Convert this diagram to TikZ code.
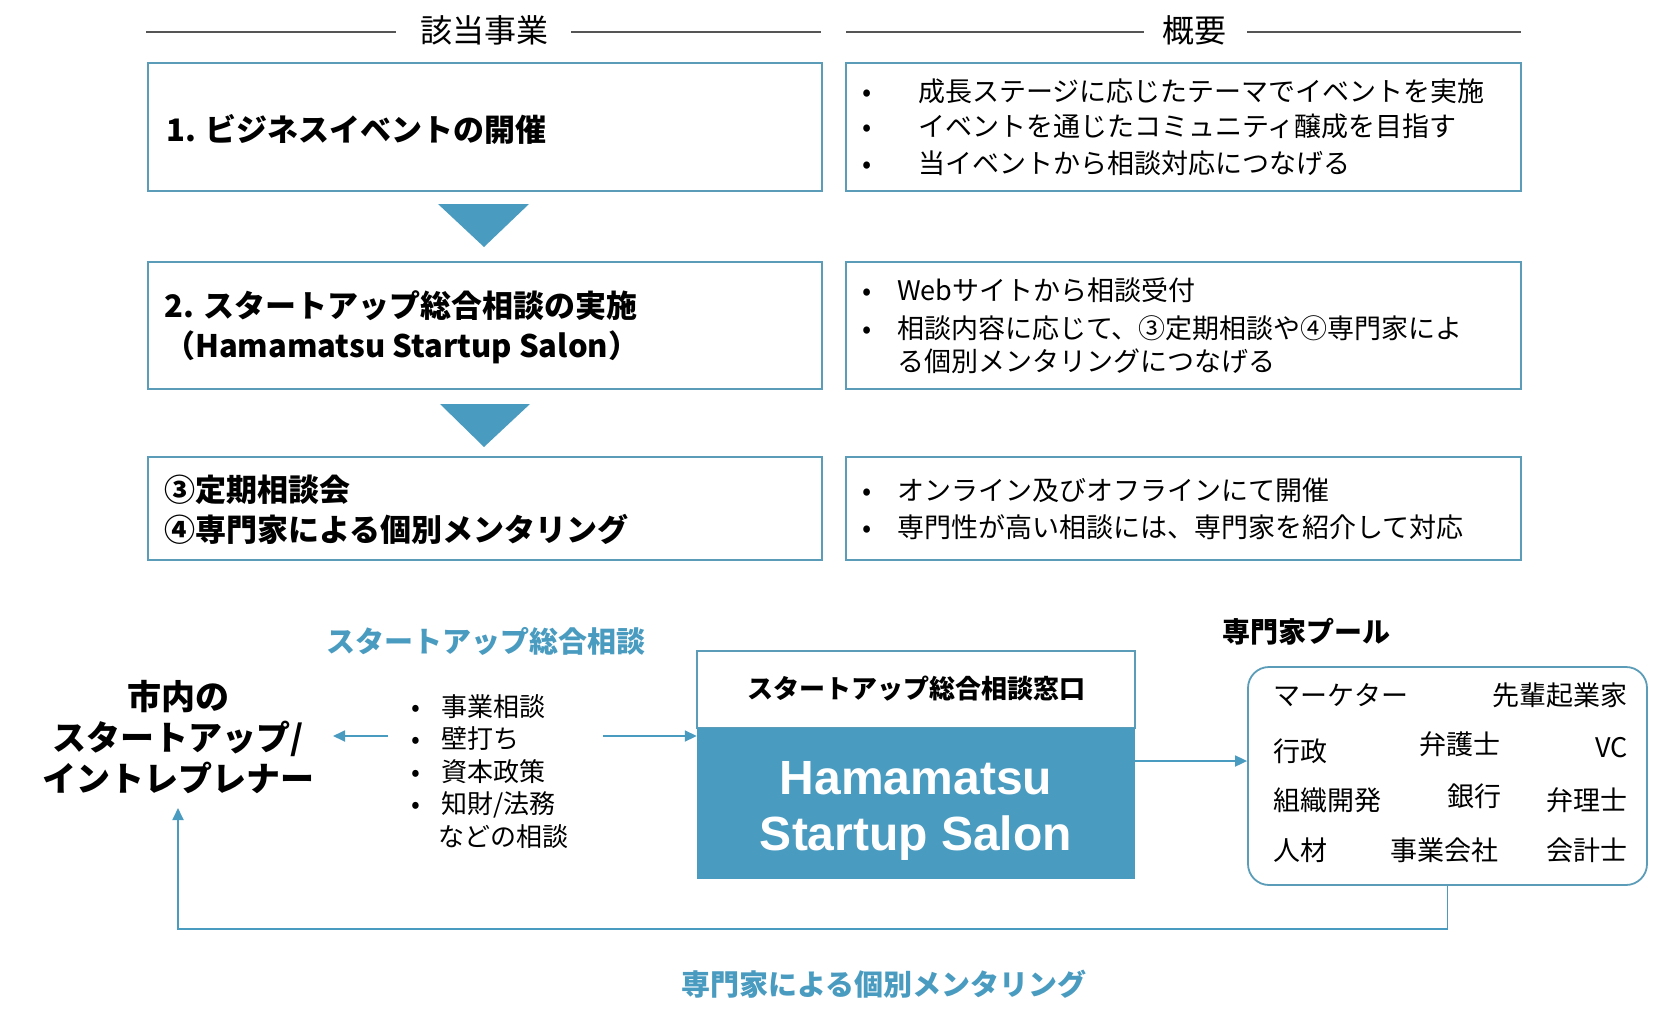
\documentclass[tikz,border=0pt]{standalone}
\usepackage{fontspec}
\setmainfont{Noto Sans CJK JP}
\newfontfamily\latinfont{Liberation Sans}
\usetikzlibrary{arrows.meta}
\definecolor{acc}{HTML}{4A9BC0}
\definecolor{bordc}{HTML}{5B9DB8}
\definecolor{hline}{HTML}{555555}
\newcommand\bitem[2]{\makebox[#1][l]{•}#2}
\newcommand\fs[2]{\fontsize{#1}{#2}\selectfont}
\begin{document}
\begin{tikzpicture}[x=1pt,y=-1pt,
  bx/.style={draw=bordc, line width=2, inner sep=0, minimum width=674},
  hd/.style={font=\fs{32}{36}, inner sep=0},
  hl/.style={draw=hline, line width=1.5},
  ttl/.style={font=\bfseries\fs{31}{40}, anchor=west, align=left, inner sep=0},
  bl/.style={font=\fs{27}{33}, anchor=west, align=left, inner sep=0},
  conn/.style={draw=acc, line width=1.8, -{Triangle[length=12,width=11]}},
  tri/.style={fill=acc},
  pl/.style={font=\fs{27}{32}, inner sep=0},
]
\useasboundingbox (0,0) rectangle (1668,1022);

% headers
\node[hd] (h1) at (484,30) {該当事業};
\node[hd] (h2) at (1194,30) {概要};
\draw[hl] (146,32) -- (396,32);
\draw[hl] (571,32) -- (821,32);
\draw[hl] (846,32) -- (1144,32);
\draw[hl] (1247,32) -- (1521,32);

% left boxes
\node[bx, minimum height=128] (L1) at (485,127) {};
\node[bx, minimum height=127] (L2) at (485,325.5) {};
\node[bx, minimum height=103] (L3) at (485,508.5) {};
% right boxes
\node[bx, minimum width=675, minimum height=128] (R1) at (1183.5,127) {};
\node[bx, minimum width=675, minimum height=127] (R2) at (1183.5,325.5) {};
\node[bx, minimum width=675, minimum height=103] (R3) at (1183.5,508.5) {};

% titles
\node[ttl] (t1) at (166,129) {1. ビジネスイベントの開催};
\node[ttl] (t2) at (164,327) {2. スタートアップ総合相談の実施\\（Hamamatsu Startup Salon）};
\node[ttl] (t3) at (164,510) {③定期相談会\\④専門家による個別メンタリング};

% bullets right
\node[bl] (r1a) at (862,91.5) {\bitem{56pt}{成長ステージに応じたテーマでイベントを実施}};
\node[bl] (r1b) at (862,126.5) {\bitem{56pt}{イベントを通じたコミュニティ醸成を目指す}};
\node[bl] (r1c) at (862,163) {\bitem{56pt}{当イベントから相談対応につなげる}};

\node[bl] (r2a) at (862,290) {\bitem{35pt}{Webサイトから相談受付}};
\node[bl] (r2b) at (862,345) {\bitem{35pt}{相談内容に応じて、③定期相談や④専門家によ}\\\hspace*{35pt}る個別メンタリングにつなげる};

\node[bl] (r3a) at (862,490) {\bitem{35pt}{オンライン及びオフラインにて開催}};
\node[bl] (r3b) at (862,527) {\bitem{35pt}{専門性が高い相談には、専門家を紹介して対応}};

% triangles
\fill[tri] (438,204) -- (529,204) -- (484,247) -- cycle;
\fill[tri] (440,404) -- (530,404) -- (484,447) -- cycle;

% bottom section
\node[font=\bfseries\fs{29}{34}, text=acc, inner sep=0] (cons) at (486,641) {スタートアップ総合相談};
\node[font=\bfseries\fs{34}{41}, align=center, inner sep=0] (cit) at (178,737) {市内の\\スタートアップ/\\イントレプレナー};
\node[font=\fs{26}{32.5}, anchor=west, align=left, inner sep=0] (list) at (411,771.5)
  {\bitem{30pt}{事業相談}\\\bitem{30pt}{壁打ち}\\\bitem{30pt}{資本政策}\\\bitem{30pt}{知財/法務}\\\hspace*{27pt}などの相談};

\node[draw=bordc, line width=1.5, minimum width=438, minimum height=77, inner sep=0] (win) at (916,689.5) {};
\node[font=\bfseries\fs{26}{30}, inner sep=0] (wint) at (916,689) {スタートアップ総合相談窓口};
\node[fill=acc, minimum width=438, minimum height=151, inner sep=0] (salon) at (916,803.5) {};
\node[font=\latinfont\bfseries\fs{48}{56}, text=white, align=center, inner sep=0] (salt) at (916,811) {Hamamatsu\\Startup Salon};

\node[font=\bfseries\fs{28}{32}, inner sep=0] (poolt) at (1306,632) {専門家プール};
\node[draw=bordc, line width=1.8, rounded corners=21, minimum width=399, minimum height=218, inner sep=0] (pool) at (1447.5,776) {};

\node[pl, anchor=west] (p1) at (1273,695) {マーケター};
\node[pl, anchor=east] (p2) at (1628,695) {先輩起業家};
\node[pl, anchor=west] (p3) at (1273,751) {行政};
\node[pl] (p4) at (1460,744) {弁護士};
\node[pl, anchor=east] (p5) at (1628,748) {VC};
\node[pl, anchor=west] (p6) at (1273,800) {組織開発};
\node[pl] (p7) at (1474,796) {銀行};
\node[pl, anchor=east] (p8) at (1628,800) {弁理士};
\node[pl, anchor=west] (p9) at (1273,850) {人材};
\node[pl] (p10) at (1444,850) {事業会社};
\node[pl, anchor=east] (p11) at (1628,850) {会計士};

\node[font=\bfseries\fs{29}{34}, text=acc, inner sep=0] (ment) at (884,984) {専門家による個別メンタリング};

% connectors
\coordinate (la) at (388,736);
\coordinate (lb) at (333,736);
\coordinate (ra) at (603,736);
\coordinate (pa) at (1135,761);
\coordinate (citb) at (178,808);
\draw[conn] (la) -- (lb);
\draw[conn] (ra) -- (salon.west |- ra);
\draw[conn] (pa) -- (pool.west |- pa);
\draw[conn] (pool.south) -- (pool.south |- 0,929) -| (citb);
\end{tikzpicture}
\end{document}
